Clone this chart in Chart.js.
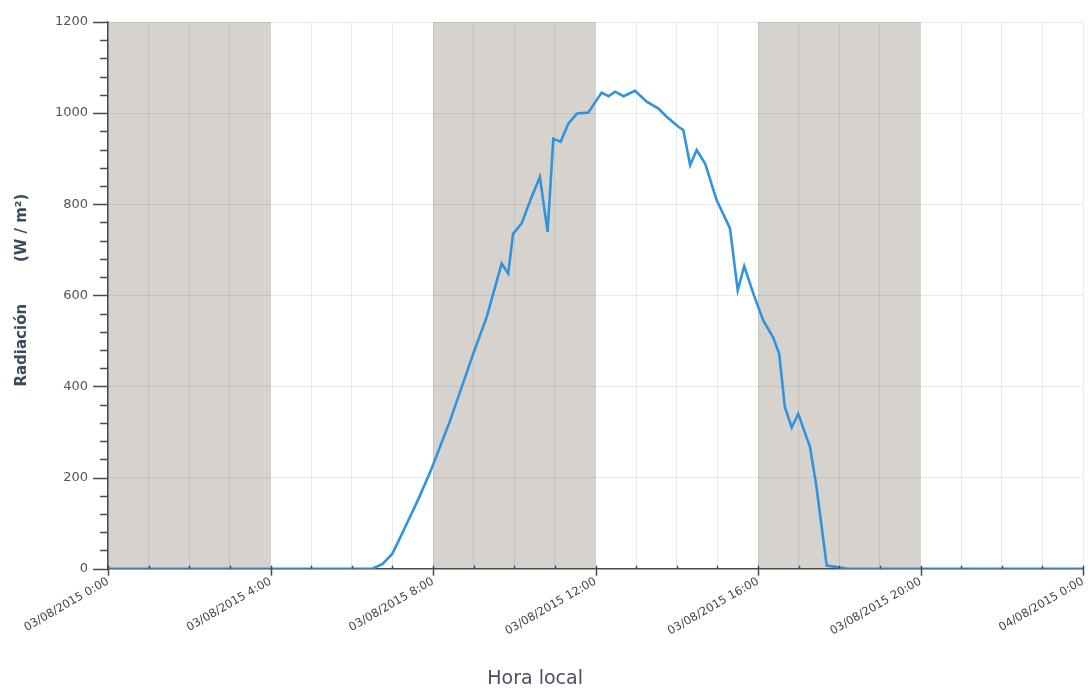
<!DOCTYPE html>
<html>
<head>
<meta charset="utf-8">
<script src="https://cdn.jsdelivr.net/npm/chart.js@4.4.0/dist/chart.umd.min.js"></script>
<style>
  html, body { margin: 0; padding: 0; background: #fff; }
  #wrap { width: 1088px; height: 690px; }
</style>
</head>
<body>
<div id="wrap"><canvas id="radChart" width="1088" height="690"></canvas></div>
<script>
// hora local (horas desde 03/08/2015 0:00)
const hours = [0, 6.5, 6.75, 7.0, 7.35, 7.65, 7.93, 8.42, 8.99, 9.32, 9.69, 9.85, 9.97, 10.18, 10.4, 10.63,
  10.82, 10.96, 11.14, 11.33, 11.54, 11.82, 12.15, 12.32, 12.48, 12.69, 12.97, 13.26, 13.55, 13.75, 14.04,
  14.16, 14.33, 14.49, 14.7, 14.98, 15.31, 15.5, 15.66, 15.9, 16.13, 16.37, 16.52, 16.66, 16.83, 16.99,
  17.28, 17.44, 17.69, 17.9, 18.2, 24];
// radiación (W/m2)
const radiation = [0, 0, 10, 33, 98, 155, 212, 325, 472, 552, 670, 648, 735, 758, 810, 860,
  739, 944, 937, 977, 999, 1001, 1045, 1037, 1047, 1037, 1049, 1025, 1010, 992, 970,
  963, 886, 919, 889, 809, 747, 611, 664, 600, 545, 508, 472, 355, 310, 340,
  267, 179, 7, 4, 0, 0];
const tickLabels = ['03/08/2015 0:00', '03/08/2015 4:00', '03/08/2015 8:00', '03/08/2015 12:00',
  '03/08/2015 16:00', '03/08/2015 20:00', '04/08/2015 0:00'];
const yLabels = [0, 200, 400, 600, 800, 1000, 1200];
// franjas grises (inicio, fin) en horas
const bandStarts = [0, 8, 16];
const bandEnds = [4, 12, 20];

const bandsPlugin = {
    id: 'bands',
    beforeDraw(chart) {
        const {ctx, chartArea, scales} = chart;
        ctx.save();
        ctx.fillStyle = '#d6d3cf';
        bandStarts.forEach(function(s, i) {
            const x1 = scales.x.getPixelForValue(s);
            const x2 = scales.x.getPixelForValue(bandEnds[i]);
            ctx.fillRect(x1, chartArea.top, x2 - x1, chartArea.bottom - chartArea.top);
        });
        ctx.restore();
    }
};

// tick marks: major / minor
const tickMarks = {
    id: 'tickMarks',
    afterDraw(chart) {
        const {ctx, chartArea, scales} = chart;
        ctx.save();
        ctx.strokeStyle = '#4a4a4a';
        ctx.lineWidth = 1.5;
        scales.y.ticks.forEach(function(t) {
            const y = Math.round(scales.y.getPixelForValue(t.value)) + 0.5;
            const len = t.value % 200 === 0 ? 15 : 8;
            ctx.beginPath();
            ctx.moveTo(chartArea.left - len, y);
            ctx.lineTo(chartArea.left, y);
            ctx.stroke();
        });
        scales.x.ticks.forEach(function(t) {
            const x = Math.round(scales.x.getPixelForValue(t.value)) + 0.5;
            const major = t.value % 4 === 0;
            ctx.beginPath();
            ctx.moveTo(x, chartArea.bottom - 3);
            ctx.lineTo(x, chartArea.bottom + (major ? 7 : 0));
            ctx.stroke();
        });
        ctx.restore();
    }
};

const ctx = document.getElementById('radChart').getContext('2d');
const radChart = new Chart(ctx, {
    type: 'line',
    data: {
        datasets: [{
            label: 'Radiación',
            data: hours.map(function(h, i) { return {x: h, y: radiation[i]}; }),
            borderColor: '#3193de',
            borderWidth: 2.6,
            pointRadius: 0,
            tension: 0,
            fill: false
        }]
    },
    options: {
        responsive: false,
        animation: false,
        layout: {
            padding: {top: 22, right: 5, left: 0, bottom: 0}
        },
        plugins: {
            legend: { display: false },
            tooltip: { enabled: false }
        },
        scales: {
            x: {
                type: 'linear',
                min: 0,
                max: 24,
                afterFit: function(scale) { scale.paddingRight = 0; },
                border: { color: '#4a4a4a', width: 1.5 },
                grid: {
                    color: 'rgba(0,0,0,0.08)',
                    drawTicks: false
                },
                ticks: {
                    stepSize: 1,
                    autoSkip: false,
                    minRotation: 30,
                    maxRotation: 30,
                    padding: 6,
                    color: '#444',
                    font: { family: 'DejaVu Sans', size: 11.5 },
                    callback: function(value) {
                        return value % 4 === 0 ? tickLabels[value / 4] : '';
                    }
                },
                title: {
                    display: true,
                    // trailing spaces push the visible text left of the axis centre
                    text: 'Hora local' + ' '.repeat(20),
                    color: '#4a5060',
                    font: { family: 'DejaVu Sans', size: 19 },
                    padding: { top: 23, bottom: 0 }
                }
            },
            y: {
                min: 0,
                max: 1200,
                afterFit: function(scale) { scale.paddingTop = 0; },
                border: { color: '#4a4a4a', width: 1.5 },
                grid: {
                    drawTicks: false,
                    color: function(c) {
                        return yLabels.includes(c.tick.value) ? 'rgba(0,0,0,0.08)' : 'transparent';
                    }
                },
                ticks: {
                    stepSize: 40,
                    autoSkip: false,
                    padding: 20,
                    color: '#555',
                    font: { family: 'DejaVu Sans', size: 13 },
                    callback: function(value) {
                        return yLabels.includes(value) ? String(value) : '';
                    }
                },
                title: {
                    display: true,
                    text: '  Radiación        (W / m²)',
                    color: '#3b4a5e',
                    font: { family: 'DejaVu Sans', size: 15, weight: 'bold' },
                    padding: { top: 13, bottom: 4 }
                }
            }
        }
    },
    plugins: [bandsPlugin, tickMarks]
});
</script>
</body>
</html>
